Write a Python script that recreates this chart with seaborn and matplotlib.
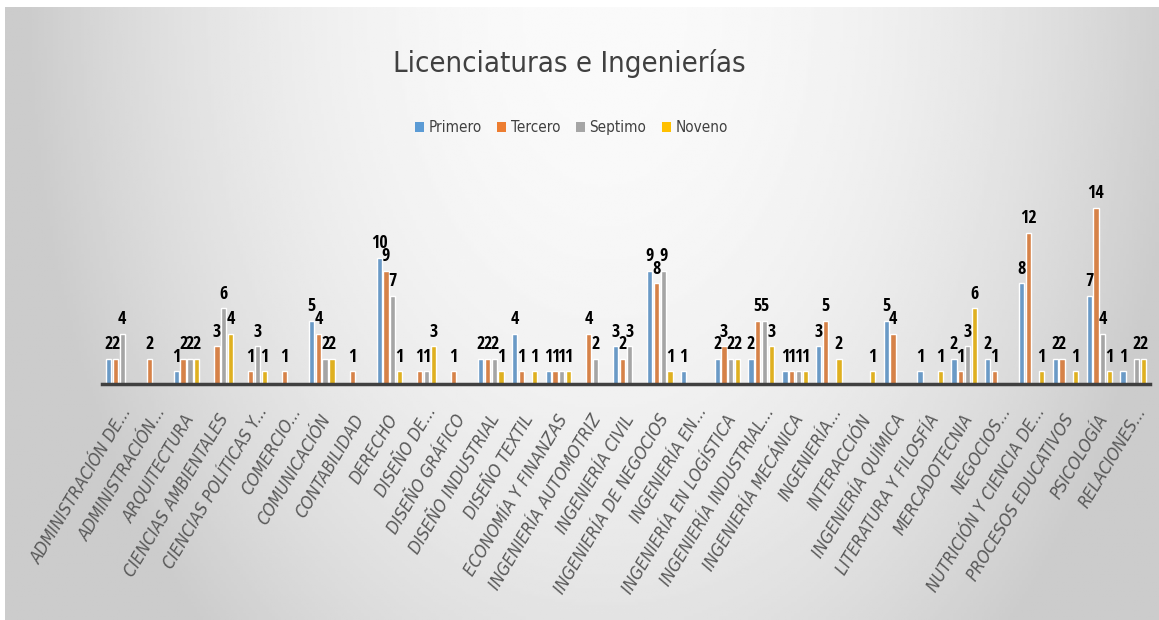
# grafica: licenciaturas e ingenierias por semestre

import matplotlib
matplotlib.use("Agg")
import matplotlib.pyplot as plt
import matplotlib.transforms as mtransforms
from matplotlib.patches import Patch
import numpy as np
import pandas as pd
import seaborn as sns

carreras = [
    "ADMINISTRACIÓN DE...", "ADMINISTRACIÓN...", "ARQUITECTURA",
    "CIENCIAS AMBIENTALES", "CIENCIAS POLÍTICAS Y...", "COMERCIO...",
    "COMUNICACIÓN", "CONTABILIDAD", "DERECHO", "DISEÑO DE...",
    "DISEÑO GRÁFICO", "DISEÑO INDUSTRIAL", "DISEÑO TEXTIL",
    "ECONOMÍA Y FINANZAS", "INGENIERÍA AUTOMOTRIZ", "INGENIERÍA CIVIL",
    "INGENIERÍA DE NEGOCIOS", "INGENIERÍA EN...", "INGENIERÍA EN LOGÍSTICA",
    "INGENIERÍA INDUSTRIAL...", "INGENIERÍA MECÁNICA", "INGENIERÍA...",
    "INTERACCIÓN", "INGENIERÍA QUÍMICA", "LITERATURA Y FILOSFÍA",
    "MERCADOTECNIA", "NEGOCIOS...", "NUTRICIÓN Y CIENCIA DE...",
    "PROCESOS EDUCATIVOS", "PSICOLOGÍA", "RELACIONES...",
]
N = None
primero = [2, N, 1, N, N, N, 5, N, 10, N, N, 2, 4, 1, N, 3, 9, 1, 2, 2, 1, 3, N, 5, 1, 2, 2, 8, 2, 7, 1]
tercero = [2, 2, 2, 3, 1, 1, 4, 1, 9, 1, 1, 2, 1, 1, 4, 2, 8, N, 3, 5, 1, 5, N, 4, N, 1, 1, 12, 2, 14, N]
septimo = [4, N, 2, 6, 3, N, 2, N, 7, 1, N, 2, N, 1, 2, 3, 9, N, 2, 5, 1, N, N, N, N, 3, N, N, N, 4, 2]
noveno = [N, N, 2, 4, 1, N, 2, N, 1, 3, N, 1, 1, 1, N, N, 1, N, 2, 3, 1, 2, 1, N, 1, 6, N, 1, 1, 1, 2]
semestres = ["Primero", "Tercero", "Septimo", "Noveno"]
colores = ["#5B9BD5", "#ED7D31", "#A5A5A5", "#FFC000"]

df = pd.DataFrame({"carrera": carreras, "Primero": primero, "Tercero": tercero,
                   "Septimo": septimo, "Noveno": noveno})
df = df.melt(id_vars="carrera", var_name="semestre", value_name="alumnos").dropna()

sns.set_theme(style="white")
plt.rcParams["font.family"] = ["DejaVu Sans"]

W, H = 1159, 620
fig = plt.figure(figsize=(W / 100, H / 100), dpi=100)
fig.patch.set_facecolor("white")

# fondo degradado (gris a los lados, blanco arriba al centro)
bg = fig.add_axes([5 / W, 0, 1 - 5 / W, (H - 7) / H], zorder=-10)
xx, yy = np.meshgrid(np.linspace(0, 1, 400), np.linspace(0, 1, 220))
dx = (xx - 0.52) / 0.5
dy = yy
v = 250 - 46 * np.minimum(1, dx ** 2 + 0.5 * dy ** 2)
bg.imshow(v, cmap="gray", vmin=0, vmax=255, aspect="auto", extent=[0, 1, 0, 1], origin="upper")
bg.axis("off")

ax = fig.add_axes([102 / W, 236 / H, (1150 - 102) / W, 189 / H])
ax.patch.set_alpha(0)
sns.barplot(data=df, x="carrera", y="alumnos", hue="semestre", order=carreras,
            hue_order=semestres, palette=colores, width=0.8, gap=0.22,
            errorbar=None, legend=False, ax=ax)
ax.set_xlim(-0.5, len(carreras) - 0.5)
ax.set_ylim(0, 15)

for c in ax.containers:
    ax.bar_label(c, fmt="%d", padding=4, fontsize=13, fontweight="bold",
                 family="Open Sans Condensed", fontstretch="condensed", color="black")

for s in ["top", "left", "right"]:
    ax.spines[s].set_visible(False)
ax.spines["bottom"].set_color("#404040")
ax.spines["bottom"].set_linewidth(2.5)
ax.set_yticks([])
ax.set_xlabel("")
ax.set_ylabel("")
ax.tick_params(axis="x", length=0, pad=23)
ax.set_xticks(range(len(carreras)))
ax.set_xticklabels(carreras, rotation=59, ha="right", va="center", rotation_mode="anchor",
                   fontsize=12.5, fontstyle="oblique", fontstretch="condensed", color="#595959")

ang = np.deg2rad(59)
for lbl in ax.get_xticklabels():
    shift = 9 if lbl.get_text().endswith("...") else 0
    off = mtransforms.ScaledTranslation((5 + shift * np.cos(ang)) / 100,
                                        (shift * np.sin(ang)) / 100, fig.dpi_scale_trans)
    lbl.set_transform(lbl.get_transform() + off)

fig.text(0.491, 0.897, "Licenciaturas e Ingenierías", ha="center", va="center",
         fontsize=21, fontstretch="condensed", color="#404040")

handles = [Patch(facecolor=c, edgecolor="none", label=s) for s, c in zip(semestres, colores)]
fig.legend(handles=handles, loc="center", bbox_to_anchor=(0.493, 0.794), ncol=4,
           frameon=False, handlelength=0.6, handleheight=0.6,
           handletextpad=0.3, columnspacing=1.0, labelcolor="#404040",
           prop={"stretch": "condensed", "size": 11})

fig.savefig("out.png", dpi=100)
